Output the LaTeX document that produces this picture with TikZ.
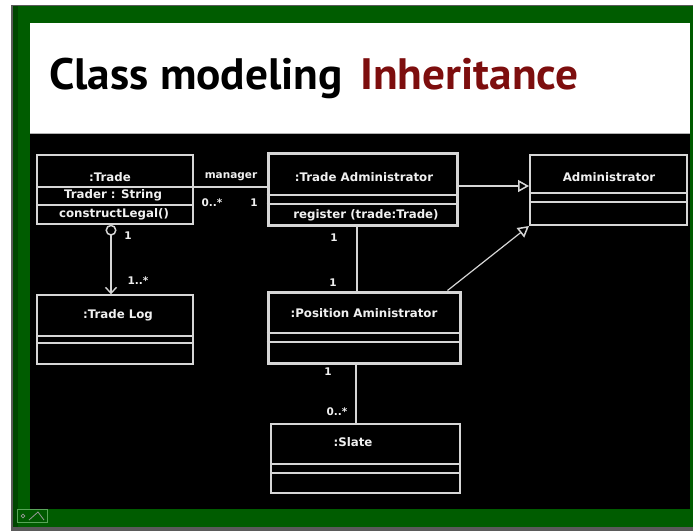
\documentclass[tikz,border=0pt]{standalone}
\usepackage{fontspec}
\usepackage{graphicx}
\setmainfont{DejaVu Sans}
\newfontfamily\titlefont{PT Sans}
\usetikzlibrary{arrows.meta}

\definecolor{framegreen}{RGB}{0,92,0}
\definecolor{framedark}{RGB}{0,70,0}
\definecolor{rimgray}{RGB}{90,90,90}
\definecolor{titlered}{RGB}{125,14,14}
\definecolor{umlline}{RGB}{214,214,214}
\definecolor{umltextc}{RGB}{240,240,240}

\tikzset{
  classbox/.style={draw=umlline, line width=1.4pt, inner sep=0pt},
  heavybox/.style={draw=umlline, line width=3pt, inner sep=0pt},
  sect/.style={draw=umlline, line width=1.2pt},
  heavysect/.style={draw=umlline, line width=2pt},
  umltext/.style={text=umltextc, font=\bfseries\fontsize{11.8}{13}\selectfont, inner sep=0pt},
  multlabel/.style={text=umltextc, font=\bfseries\fontsize{10.5}{12}\selectfont, inner sep=0pt},
  assoc/.style={draw=umlline, line width=1.2pt},
  generalize/.style={draw=umlline, line width=1.2pt, -{Triangle[open, length=11pt, width=12pt, line width=1.5pt]}},
  navigable/.style={draw=umlline, line width=1.2pt,
    {Circle[open, length=11pt, line width=1.5pt]}-{Straight Barb[length=6pt, width=11pt, line width=1.4pt]}},
}

\begin{document}
\begin{tikzpicture}[x=1pt, y=-1pt]
  % page, slide frame and panels
  \useasboundingbox (0,0) rectangle (693,531);
  \fill[white] (0,0) rectangle (693,531);
  \fill[rimgray] (11,5) rectangle (693,531);
  \fill[framegreen] (13,6) rectangle (693,527);
  \fill[framedark] (13,6) rectangle (18,527);
  \fill[white] (30,23) rectangle (690,133);
  \fill[black] (30,133) rectangle (690,509);
  \draw[gray!60, line width=0.8pt] (30,133) -- (690,133);

  % slide title
  \node[anchor=base west, inner sep=0pt] (title) at (49,89)
    {\scalebox{1.03}[1]{\titlefont\bfseries\fontsize{44}{48}\selectfont
      Class modeling\hspace{17pt}\textcolor{titlered}{Inheritance}}};

  % toolbar button in the lower frame
  \node[draw=gray!70!green, fill=green!35!black, line width=0.8pt,
        minimum width=30pt, minimum height=13pt, inner sep=0pt] (pen) at (32,516) {};
  \node[draw=gray!80, line width=0.8pt, circle, inner sep=1.3pt] (pendot) at (23,516) {};
  \coordinate (penA) at (29,520);
  \coordinate (penB) at (38,512);
  \draw[gray!80, line width=0.8pt] (penA) -- (penB) -- (44,520);

  % classes
  \node[classbox, minimum width=156pt, minimum height=69pt] (trade) at (115,189.5) {};
  \draw[sect] (trade.west |- 0,187) -- (trade.east |- 0,187);
  \draw[sect] (trade.west |- 0,205) -- (trade.east |- 0,205);
  \node[umltext] (tradename) at (110,177) {:Trade};
  \node[umltext] (tradeattr) at (113,195.5) {Trader : String};
  \node[umltext] (tradeop)   at (114,214.5) {constructLegal()};

  \node[heavybox, minimum width=189pt, minimum height=72pt] (tradeadm) at (362.5,189) {};
  \draw[heavysect] (tradeadm.west |- 0,195) -- (tradeadm.east |- 0,195);
  \draw[heavysect] (tradeadm.west |- 0,204) -- (tradeadm.east |- 0,204);
  \node[umltext] (tradeadmname) at (364,177) {:Trade Administrator};
  \node[umltext] (tradeadmop)   at (366,215) {register (trade:Trade)};

  \node[classbox, line width=2pt, minimum width=157pt, minimum height=70pt] (admin) at (608.5,190) {};
  \draw[heavysect] (admin.west |- 0,193) -- (admin.east |- 0,193);
  \draw[sect] (admin.west |- 0,202) -- (admin.east |- 0,202);
  \node[umltext] (adminname) at (609,177) {Administrator};

  \node[classbox, minimum width=156pt, minimum height=69pt] (tradelog) at (115,329.5) {};
  \draw[sect] (tradelog.west |- 0,336) -- (tradelog.east |- 0,336);
  \draw[sect] (tradelog.west |- 0,343) -- (tradelog.east |- 0,343);
  \node[umltext] (tradelogname) at (118,315) {:Trade Log};

  \node[heavybox, minimum width=192pt, minimum height=71pt] (posadm) at (364,327.5) {};
  \draw[heavysect] (posadm.west |- 0,333) -- (posadm.east |- 0,333);
  \draw[heavysect] (posadm.west |- 0,342) -- (posadm.east |- 0,342);
  \node[umltext] (posadmname) at (364,313) {:Position Aministrator};

  \node[classbox, minimum width=189pt, minimum height=69pt] (slate) at (365.5,458.5) {};
  \draw[sect] (slate.west |- 0,464) -- (slate.east |- 0,464);
  \draw[sect] (slate.west |- 0,473) -- (slate.east |- 0,473);
  \node[umltext] (slatename) at (353,442) {:Slate};

  % associations
  \draw[assoc] (trade.east |- 0,187) -- (tradeadm.west |- 0,187);
  \node[multlabel] (mgr)  at (231,177) {manager};
  \node[multlabel] (mgrm) at (212,203) {0..*};
  \node[multlabel] (mgro) at (254,203) {1};

  \draw[navigable] (trade.south -| 111,0) -- (tradelog.north -| 111,0);
  \node[multlabel] (logo) at (128,236) {1};
  \node[multlabel] (logm) at (138,281) {1..*};

  \draw[assoc] (tradeadm.south -| 357,0) -- (posadm.north -| 357,0);
  \node[multlabel] (tpa1) at (334,238) {1};
  \node[multlabel] (tpa2) at (333,283) {1};

  \draw[assoc] (posadm.south -| 356,0) -- (slate.north -| 356,0);
  \node[multlabel] (ps1) at (328,372) {1};
  \node[multlabel] (ps2) at (337,412) {0..*};

  % generalisations
  \draw[generalize] (tradeadm.east |- 0,186) -- (admin.west |- 0,186);
  \draw[generalize] ([xshift=-14pt]posadm.north east) -- (admin.south west);
\end{tikzpicture}
\end{document}
